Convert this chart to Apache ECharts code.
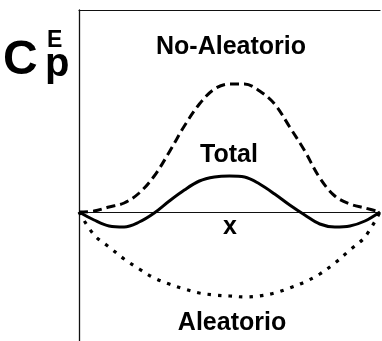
<!DOCTYPE html>
<html>
<head>
<meta charset="utf-8">
<style>
  html, body { margin: 0; padding: 0; background: #fff; }
  #chart { width: 382px; height: 341px; }
</style>
<script src="https://cdn.jsdelivr.net/npm/echarts@6/dist/echarts.min.js"></script>
</head>
<body>
<div id="chart"></div>
<script>
// Composition variable x (0 to 1)
const xs = [0, 0.05, 0.10, 0.15, 0.20, 0.25, 0.30, 0.35, 0.40, 0.45, 0.50,
            0.55, 0.60, 0.65, 0.70, 0.75, 0.80, 0.85, 0.90, 0.95, 1.00];

// Excess heat capacity contributions
const noAleatorio = [0, 0.01, 0.05, 0.09, 0.19, 0.36, 0.60, 0.86, 1.08, 1.23, 1.28,
                     1.28, 1.21, 1.08, 0.85, 0.61, 0.34, 0.16, 0.08, 0.04, 0];
const total = [0, -0.08, -0.14, -0.15, -0.10, -0.01, 0.11, 0.22, 0.31, 0.35, 0.36,
               0.35, 0.28, 0.18, 0.07, -0.03, -0.12, -0.15, -0.14, -0.09, 0];
const aleatorio = [0, -0.23, -0.35, -0.47, -0.57, -0.66, -0.72, -0.77, -0.81, -0.83, -0.84,
                   -0.85, -0.84, -0.81, -0.76, -0.70, -0.62, -0.51, -0.38, -0.25, 0];

const pairs = arr => xs.map((x, i) => [x, arr[i]]);
const FONT = '"Liberation Sans", Arial, sans-serif';

const chart = echarts.init(document.getElementById('chart'), null, { renderer: 'canvas' });

const label = (text, x, y, size) => ({
  type: 'text', x: x, y: y,
  style: { text: text, font: 'bold ' + size + 'px ' + FONT, fill: '#000', textAlign: 'center' }
});

chart.setOption({
  animation: false,
  backgroundColor: '#fff',
  grid: { left: 79, right: 2, top: 10, bottom: 0 },
  xAxis: [
    {
      type: 'value', min: 0, max: 1,
      axisLine: { show: true, onZero: true, lineStyle: { color: '#111', width: 1 } },
      axisTick: { show: false }, axisLabel: { show: false }, splitLine: { show: false }
    },
    {
      type: 'value', position: 'top', min: 0, max: 1,
      axisLine: { show: true, onZero: false, lineStyle: { color: '#111', width: 1.2 } },
      axisTick: { show: false }, axisLabel: { show: false }, splitLine: { show: false }
    }
  ],
  yAxis: {
    type: 'value', min: -1.29, max: 2.02,
    axisLine: { show: true, onZero: false, lineStyle: { color: '#111', width: 1.3 } },
    axisTick: { show: false }, axisLabel: { show: false }, splitLine: { show: false }
  },
  series: [
    {
      name: 'No-Aleatorio', type: 'line', smooth: 0.35, symbol: 'none',
      data: pairs(noAleatorio),
      lineStyle: { color: '#000', width: 3, type: [9, 5] }
    },
    {
      name: 'Total', type: 'line', smooth: 0.35, symbol: 'none',
      data: pairs(total),
      lineStyle: { color: '#000', width: 3 }
    },
    {
      name: 'Aleatorio', type: 'line', smooth: 0.35, symbol: 'none',
      data: pairs(aleatorio),
      lineStyle: { color: '#000', width: 3.2, type: [3.5, 7] }
    }
  ],
  graphic: [
    label('No-Aleatorio', 231, 35, 25),
    label('Total', 229, 143, 25),
    label('x', 230, 215, 25),
    label('Aleatorio', 232, 311, 25),
    { type: 'text', x: 3, y: 37,
      style: { text: 'C', font: 'bold 48px ' + FONT, fill: '#000' } },
    { type: 'text', x: 47, y: 29,
      style: { text: 'E', font: 'bold 23px ' + FONT, fill: '#000' } },
    { type: 'text', x: 45, y: 45,
      style: { text: 'p', font: 'bold 40px ' + FONT, fill: '#000' } }
  ]
});
</script>
</body>
</html>
